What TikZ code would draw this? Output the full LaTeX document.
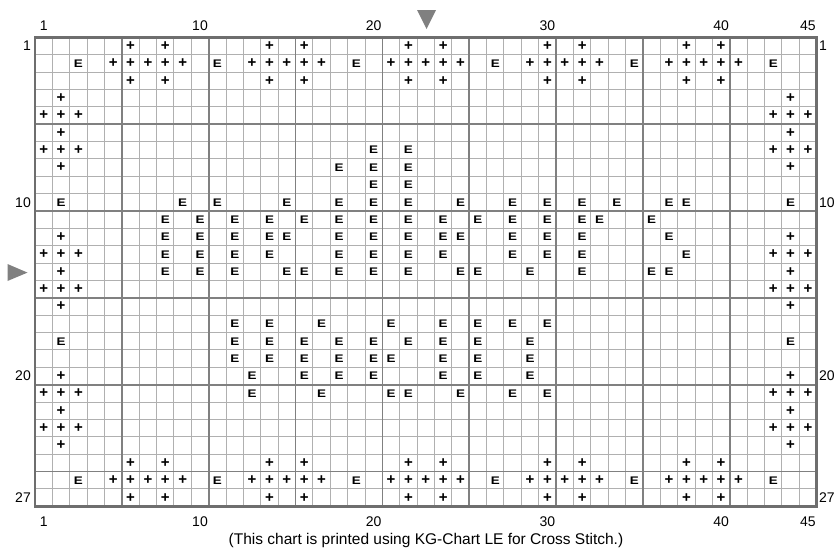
\documentclass[tikz,border=0pt]{standalone}
\usepackage{fontspec}
\usepackage{graphicx}
\setmainfont{Liberation Sans}
\usetikzlibrary{positioning}
\definecolor{gridlight}{RGB}{176,176,176}
\definecolor{griddark}{RGB}{128,128,128}
\definecolor{framegray}{RGB}{110,110,110}
\definecolor{markgray}{RGB}{128,128,128}
\newcommand{\cellsz}{17.37}
\newcommand{\gridl}{35}
\newcommand{\gridt}{37.3}
\tikzset{
    gridline/.style={draw=gridlight, line width=1pt},
    fiveline/.style={draw=griddark, line width=1.6pt},
    frameline/.style={draw=framegray, line width=2.6pt},
    plussym/.style={inner sep=0pt, font=\fontsize{15}{15}\selectfont\bfseries},
    esym/.style={inner sep=0pt, font=\fontsize{11}{11}\selectfont\bfseries},
    numlabel/.style={inner sep=0pt, font=\fontsize{14}{14}\selectfont},
    captext/.style={inner sep=0pt, font=\fontsize{15.5}{15.5}\selectfont},
    marker/.style={fill=markgray, draw=none}
}
\newcommand{\plusrow}[2]{%
  \foreach \c in {#2}
    \node[plussym] (p-#1-\c) at ({\gridl+(\c-0.5)*\cellsz},{\gridt+(#1-0.5)*\cellsz}) {+};}
\newcommand{\erow}[2]{%
  \foreach \c in {#2}
    \node[esym] (e-#1-\c) at ({\gridl+(\c-0.5)*\cellsz},{\gridt+(#1-0.5)*\cellsz}) {\scalebox{1.22}[1]{E}};}

\begin{document}
\begin{tikzpicture}[x=1pt, y=-1pt]
  \useasboundingbox (0,0) rectangle (839,549);
  % grid
  \foreach \i in {1,...,44}
    \draw[gridline] ({\gridl+\i*\cellsz},\gridt) -- ++(0,{27*\cellsz});
  \foreach \j in {1,...,26}
    \draw[gridline] (\gridl,{\gridt+\j*\cellsz}) -- ++({45*\cellsz},0);
  \foreach \i in {5,10,...,40}
    \draw[fiveline] ({\gridl+\i*\cellsz},\gridt) -- ++(0,{27*\cellsz});
  \foreach \j in {5,10,...,25}
    \draw[fiveline] (\gridl,{\gridt+\j*\cellsz}) -- ++({45*\cellsz},0);
  \draw[frameline] (\gridl,\gridt) rectangle ++({45*\cellsz},{27*\cellsz});
  % centre markers
  \fill[marker] (417,10) -- (436,10) -- (426.5,29) -- cycle;
  \fill[marker] (7.5,264) -- (27.5,272.6) -- (7.5,281) -- cycle;
  % column and row numbers
  \foreach \n in {1,10,20,30,40,45} {
    \node[numlabel] (top-\n) at ({\gridl+(\n-0.5)*\cellsz},26) {\n};
    \node[numlabel] (bot-\n) at ({\gridl+(\n-0.5)*\cellsz},522) {\n};
  }
  \foreach \n in {1,10,20,27} {
    \node[numlabel, anchor=east] (left-\n) at (31,{\gridt+(\n-0.5)*\cellsz}) {\n};
    \node[numlabel, anchor=west] (right-\n) at (819,{\gridt+(\n-0.5)*\cellsz}) {\n};
  }
  % stitches
  \plusrow{1}{6,8,14,16,22,24,30,32,38,40}
  \plusrow{2}{5,6,7,8,9,13,14,15,16,17,21,22,23,24,25,29,30,31,32,33,37,38,39,40,41}
  \erow{2}{3,11,19,27,35,43}
  \plusrow{3}{6,8,14,16,22,24,30,32,38,40}
  \plusrow{4}{2,44}
  \plusrow{5}{1,2,3,43,44,45}
  \plusrow{6}{2,44}
  \plusrow{7}{1,2,3,43,44,45}
  \erow{7}{20,22}
  \plusrow{8}{2,44}
  \erow{8}{18,20,22}
  \erow{9}{20,22}
  \erow{10}{2,9,11,15,18,20,22,25,28,30,32,34,37,38,44}
  \erow{11}{8,10,12,14,16,18,20,22,24,26,28,30,32,33,36}
  \plusrow{12}{2,44}
  \erow{12}{8,10,12,14,15,18,20,22,24,25,28,30,32,37}
  \plusrow{13}{1,2,3,43,44,45}
  \erow{13}{8,10,12,14,18,20,22,24,28,30,32,38}
  \plusrow{14}{2,44}
  \erow{14}{8,10,12,15,16,18,20,22,25,26,29,32,36,37}
  \plusrow{15}{1,2,3,43,44,45}
  \plusrow{16}{2,44}
  \erow{17}{12,14,17,21,24,26,28,30}
  \erow{18}{2,12,14,16,18,20,22,24,26,29,44}
  \erow{19}{12,14,16,18,20,21,24,26,29}
  \plusrow{20}{2,44}
  \erow{20}{13,16,18,20,24,26,29}
  \plusrow{21}{1,2,3,43,44,45}
  \erow{21}{13,17,21,22,25,28,30}
  \plusrow{22}{2,44}
  \plusrow{23}{1,2,3,43,44,45}
  \plusrow{24}{2,44}
  \plusrow{25}{6,8,14,16,22,24,30,32,38,40}
  \plusrow{26}{5,6,7,8,9,13,14,15,16,17,21,22,23,24,25,29,30,31,32,33,37,38,39,40,41}
  \erow{26}{3,11,19,27,35,43}
  \plusrow{27}{6,8,14,16,22,24,30,32,38,40}
  % footer
  \node[captext] (caption) at (426,540) {(This chart is printed using KG-Chart LE for Cross Stitch.)};
\end{tikzpicture}
\end{document}
